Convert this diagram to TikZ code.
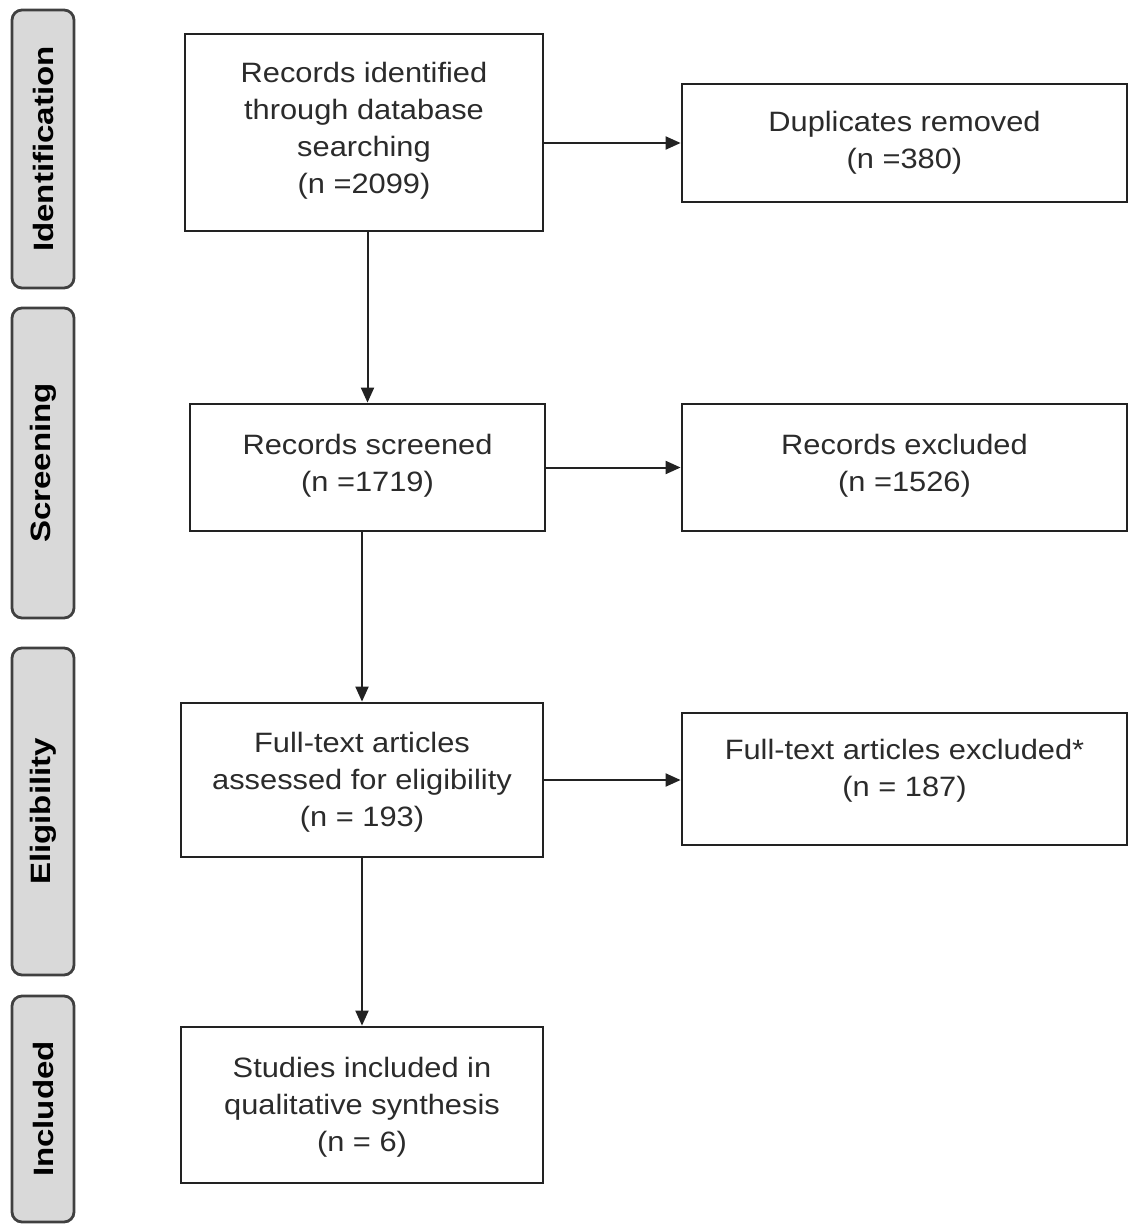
\documentclass[tikz,border=0pt]{standalone}
\usepackage{fontspec}
\newfontfamily\boxfont[FakeStretch=1.1]{Liberation Sans}
\newfontfamily\sidefont[FakeStretch=1.18]{Liberation Sans}
\usetikzlibrary{arrows.meta}
\definecolor{txtc}{HTML}{2B2B2B}
\definecolor{sidefill}{HTML}{D9D9D9}
\definecolor{sideline}{HTML}{404040}
\definecolor{linec}{HTML}{222222}
\begin{document}
\begin{tikzpicture}[x=0.5pt,y=-0.5pt,
  flowbox/.style={draw=linec, line width=1.4pt, fill=white, inner sep=0pt},
  txt/.style={text=txtc, align=center, font=\boxfont\fontsize{14}{18.5}\selectfont, inner sep=0pt},
  side/.style={draw=sideline, fill=sidefill, line width=1.4pt, rounded corners=5pt,
    rotate=90, minimum height=31pt, inner sep=0pt,
    font=\sidefont\bfseries\fontsize{14}{16}\selectfont, text=black},
  arr/.style={draw=linec, line width=1pt, -{Triangle[length=7.5pt,width=6.5pt]}}]
\useasboundingbox (0,0) rectangle (1130,1226);
% side labels
\node[side, minimum width=139pt] (sid) at (43,149) {Identification};
\node[side, minimum width=155pt] (sscr) at (43,463) {Screening};
\node[side, minimum width=163.5pt] (selig) at (43,811.5) {Eligibility};
\node[side, minimum width=113pt] (sinc) at (43,1109) {Included};
% boxes
\node[flowbox, minimum width=179pt, minimum height=98.5pt] (id) at (364,132.5) {};
\node[txt] (idT) at (id.center) [yshift=1pt] {Records identified\\through database\\searching\\(n =2099)};
\node[flowbox, minimum width=222.5pt, minimum height=59pt] (dup) at (904.5,143) {};
\node[txt] (dupT) at (dup.center) [yshift=0pt] {Duplicates removed\\(n =380)};
\node[flowbox, minimum width=177.5pt, minimum height=63.5pt] (scr) at (367.5,467.5) {};
\node[txt] (scrT) at (scr.center) [yshift=1pt] {Records screened\\(n =1719)};
\node[flowbox, minimum width=222.5pt, minimum height=63.5pt] (exc) at (904.5,467.5) {};
\node[txt] (excT) at (exc.center) [yshift=1pt] {Records excluded\\(n =1526)};
\node[flowbox, minimum width=181pt, minimum height=77pt] (ft) at (362,780) {};
\node[txt] (ftT) at (ft.center) [yshift=-1pt] {Full-text articles\\assessed for eligibility\\(n = 193)};
\node[flowbox, minimum width=222.5pt, minimum height=66pt] (fte) at (904.5,779) {};
\node[txt] (fteT) at (fte.center) [yshift=4pt] {Full-text articles excluded*\\(n = 187)};
\node[flowbox, minimum width=181pt, minimum height=78pt] (inc) at (362,1105) {};
\node[txt] (incT) at (inc.center) [yshift=-1pt] {Studies included in\\qualitative synthesis\\(n = 6)};
% connectors
\draw[arr] (id.south -| scr.north) -- (scr.north);
\draw[arr] (scr.south -| ft.north) -- (ft.north);
\draw[arr] (ft.south) -- (inc.north);
\draw[arr] (id.east |- dup.west) -- (dup.west);
\draw[arr] (scr.east) -- (exc.west);
\draw[arr] (ft.east) -- (ft.east -| fte.west);
\end{tikzpicture}
\end{document}
